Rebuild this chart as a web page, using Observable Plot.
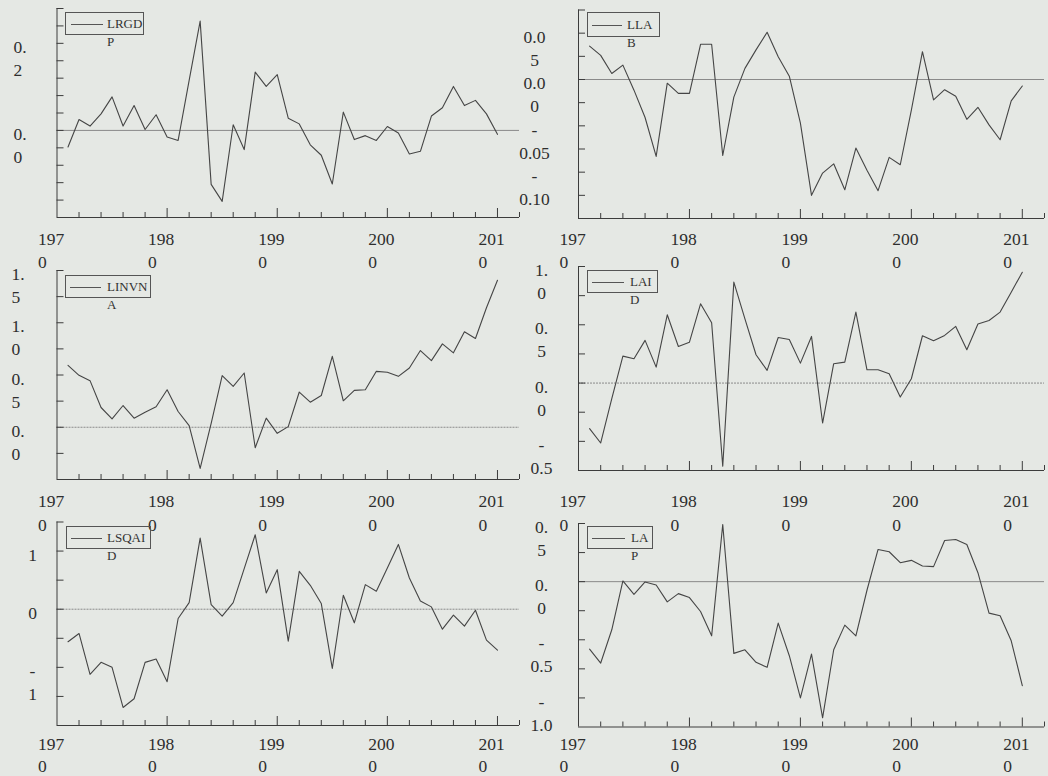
<!DOCTYPE html>
<html><head><meta charset="utf-8">
<script src="https://cdn.jsdelivr.net/npm/d3@7"></script>
<script src="https://cdn.jsdelivr.net/npm/@observablehq/plot@0.6"></script>
<style>
html,body{margin:0;padding:0;background:#e5e8e4;}
#root{position:relative;width:1048px;height:776px;background:#e5e8e4;overflow:hidden;font-family:"Liberation Serif",serif;color:#333;}
.panel{position:absolute;}
.panel svg{overflow:visible;display:block;}
.leg{position:absolute;border:1px solid #555;box-sizing:border-box;}
.legline{position:absolute;height:0;border-top:1px solid #555;}
.legtext{position:absolute;font-family:"Liberation Serif",serif;font-size:13px;line-height:18px;white-space:pre;color:#333;}
</style></head><body><div id="root"></div>
<script>
// ---------- data ----------
const years = [1971,1972,1973,1974,1975,1976,1977,1978,1979,1980,
               1981,1982,1983,1984,1985,1986,1987,1988,1989,1990,
               1991,1992,1993,1994,1995,1996,1997,1998,1999,2000,
               2001,2002,2003,2004,2005,2006,2007,2008,2009,2010];

const lrgdp = [-0.038,0.025,0.010,0.038,0.077,0.010,0.057,0.002,0.036,-0.015,
               -0.023,0.115,0.251,-0.124,-0.163,0.013,-0.044,0.134,0.101,0.128,
               0.028,0.015,-0.033,-0.057,-0.123,0.042,-0.021,-0.012,-0.023,0.009,
               -0.006,-0.054,-0.048,0.033,0.052,0.101,0.057,0.069,0.038,-0.009];
const llab = [0.036,0.026,0.0065,0.0155,-0.0115,-0.041,-0.083,-0.004,-0.015,-0.015,
              0.038,0.038,-0.082,-0.019,0.012,0.032,0.051,0.0245,0.0036,-0.047,
              -0.125,-0.101,-0.091,-0.119,-0.074,-0.098,-0.120,-0.084,-0.092,-0.033,
              0.030,-0.022,-0.011,-0.018,-0.043,-0.030,-0.049,-0.065,-0.023,-0.007];
const linvna = [0.593,0.497,0.446,0.189,0.080,0.208,0.087,0.144,0.196,0.359,
                0.151,0.016,-0.394,0.038,0.494,0.391,0.519,-0.196,0.087,-0.058,
                0.006,0.337,0.240,0.304,0.679,0.253,0.353,0.359,0.535,0.526,
                0.487,0.567,0.734,0.638,0.798,0.712,0.913,0.849,1.144,1.407];
const laid = [-0.391,-0.514,-0.134,0.231,0.209,0.366,0.137,0.586,0.314,0.351,
              0.680,0.517,-0.714,0.866,0.551,0.243,0.109,0.391,0.374,0.171,
              0.400,-0.343,0.166,0.180,0.609,0.114,0.114,0.080,-0.120,0.037,
              0.406,0.363,0.409,0.486,0.286,0.506,0.537,0.609,0.780,0.951];
const lsqaid = [-0.56,-0.417,-1.12,-0.914,-1.0,-1.69,-1.54,-0.914,-0.857,-1.246,
                -0.16,0.114,1.223,0.08,-0.12,0.114,0.697,1.28,0.28,0.68,
                -0.549,0.651,0.411,0.097,-1.017,0.24,-0.234,0.423,0.309,0.709,
                1.114,0.537,0.143,0.04,-0.343,-0.103,-0.291,-0.017,-0.531,-0.703];
const lap = [-0.58,-0.70,-0.414,0.006,-0.109,-0.003,-0.029,-0.174,-0.103,-0.137,
             -0.257,-0.466,0.491,-0.617,-0.586,-0.694,-0.737,-0.357,-0.637,-1.0,
             -0.623,-1.171,-0.586,-0.374,-0.466,-0.074,0.277,0.257,0.163,0.183,
             0.134,0.129,0.354,0.363,0.32,0.077,-0.271,-0.294,-0.509,-0.894];

const legendLabels = ["LRGD\nP", "LLA\nB", "LINVN\nA", "LAI\nD", "LSQAI\nD", "LA\nP"];

// x axis ticks and labels (years wrap onto two lines in the source)
const xMajorTicks = [1980,1990,2000,2010];
const xMinorTicks = [1972,1974,1976,1978,1982,1984,1986,1988,1992,1994,1996,1998,2002,2004,2006,2008,2012];
const xLabelYears = [1970,1980,1990,2000,2010];
const xLabels = ["197\n0","198\n0","199\n0","200\n0","201\n0"];

// y ticks and labels per panel
const yTicksTL = [-0.16,-0.12,-0.08,-0.04,0,0.04,0.08,0.12,0.16,0.2,0.24,0.28];
const yLabelValsTL = [0.2, 0];
const yLabelsTL = ["0.\n2","0.\n0"];
const yTicksTR = [-0.125,-0.1,-0.075,-0.05,-0.025,0,0.025,0.05,0.075];
const yLabelValsTR = [0.05, 0, -0.05, -0.1];
const yLabelsTR = ["0.0\n5","0.0\n0","-\n0.05","-\n0.10"];
const yTicksML = [-0.25,0,0.25,0.5,0.75,1.0,1.25,1.5];
const yLabelValsML = [1.5, 1.0, 0.5, 0];
const yLabelsML = ["1.\n5","1.\n0","0.\n5","0.\n0"];
const yTicksMR = [-0.5,-0.25,0,0.25,0.5,0.75,1.0];
const yLabelValsMR = [1.0, 0.5, 0, -0.5];
const yLabelsMR = ["1.\n0","0.\n5","0.\n0","-\n0.5"];
const yTicksBL = [-1.5,-1,-0.5,0,0.5,1,1.5];
const yLabelValsBL = [1, 0, -1];
const yLabelsBL = ["1","0","-\n1"];
const yTicksBR = [-1.0,-0.75,-0.5,-0.25,0,0.25,0.5];
const yLabelValsBR = [0.5, 0, -0.5, -1.0];
const yLabelsBR = ["0.\n5","0.\n0","-\n0.5","-\n1.0"];

// ---------- layout ----------
const FS = 17.5;
const panels = [
  {values: lrgdp, legend: 0, left: 0, top: 0, w: 524, h: 270, x0: 56.5, x1: 519, y0: 8, y1: 217, ydom: [-0.2, 0.28],
   yTicks: yTicksTL, yLV: yLabelValsTL, yL: yLabelsTL, labX: 13, labAnchor: "start", xLabY: 235, xLH: 23, zeroDash: null,
   leg: {bx: 65, by: 12, bw: 79, bh: 23, l1: 71, l2: 103, tx: 107}},
  {values: llab, legend: 1, left: 524, top: 0, w: 524, h: 270, x0: 578, x1: 1044, y0: 9.5, y1: 218, ydom: [-0.15, 0.075],
   yTicks: yTicksTR, yLV: yLabelValsTR, yL: yLabelsTR, labX: 534, labAnchor: "middle", xLabY: 235, xLH: 23, zeroDash: null,
   leg: {bx: 587, by: 12, bw: 73, bh: 25, l1: 592, l2: 622, tx: 627}},
  {values: linvna, legend: 2, left: 0, top: 260, w: 524, h: 270, x0: 56.5, x1: 519, y0: 270, y1: 479, ydom: [-0.5, 1.5],
   yTicks: yTicksML, yLV: yLabelValsML, yL: yLabelsML, labX: 11, labAnchor: "start", xLabY: 496, xLH: 24, zeroDash: "2,1",
   leg: {bx: 65, by: 275, bw: 86, bh: 23, l1: 70, l2: 101, tx: 107}},
  {values: laid, legend: 3, left: 524, top: 260, w: 524, h: 270, x0: 578, x1: 1044, y0: 266, y1: 470, ydom: [-0.75, 1.0],
   yTicks: yTicksMR, yLV: yLabelValsMR, yL: yLabelsMR, labX: 541, labAnchor: "middle", xLabY: 496, xLH: 24, zeroDash: "2,1",
   leg: {bx: 587, by: 270, bw: 71, bh: 23, l1: 592, l2: 624, tx: 630}},
  {values: lsqaid, legend: 4, left: 0, top: 510, w: 524, h: 266, x0: 56.5, x1: 519, y0: 521.5, y1: 725, ydom: [-2.0, 1.5],
   yTicks: yTicksBL, yLV: yLabelValsBL, yL: yLabelsBL, labX: 32, labAnchor: "middle", xLabY: 741, xLH: 22, zeroDash: "2,1",
   leg: {bx: 66, by: 526, bw: 85, bh: 23, l1: 71, l2: 102, tx: 107}},
  {values: lap, legend: 5, left: 524, top: 510, w: 524, h: 266, x0: 578, x1: 1044, y0: 523, y1: 726.5, ydom: [-1.25, 0.5],
   yTicks: yTicksBR, yLV: yLabelValsBR, yL: yLabelsBR, labX: 541, labAnchor: "middle", xLabY: 741, xLH: 22, zeroDash: null,
   leg: {bx: 587, by: 526, bw: 66, bh: 23, l1: 592, l2: 625, tx: 631}}
];

const root = document.getElementById("root");
const INK = "#3c3c3c";
const TXT = "#2e2e2e";

for (const p of panels) {
  const mL = p.x0 - p.left, mR = p.left + p.w - p.x1, mT = p.y0 - p.top, mB = p.top + p.h - p.y1;
  const lineDy = -0.38 * FS;
  const chart = Plot.plot({
    width: p.w, height: p.h,
    marginLeft: mL, marginRight: mR, marginTop: mT, marginBottom: mB,
    style: {background: "transparent", fontFamily: "Liberation Serif, serif", overflow: "visible"},
    x: {type: "linear", domain: [1970, 2012], axis: null},
    y: {type: "linear", domain: p.ydom, axis: null},
    marks: [
      Plot.ruleY([0], {stroke: "#8a8a8a", strokeWidth: 1, strokeDasharray: p.zeroDash}),
      Plot.lineY(p.values, {x: years, stroke: "#454545", strokeWidth: 1.1}),
      // axis lines
      Plot.ruleY([p.ydom[0]], {stroke: INK, strokeWidth: 1}),
      Plot.ruleX([1970], {stroke: INK, strokeWidth: 1}),
      // inward ticks
      Plot.axisX(xMajorTicks, {anchor: "bottom", tickSize: -9, fill: "none", stroke: INK}),
      Plot.axisX(xMinorTicks, {anchor: "bottom", tickSize: -5, fill: "none", stroke: INK}),
      Plot.axisY(p.yTicks, {anchor: "left", tickSize: -7, fill: "none", stroke: INK}),
      // x tick labels
      Plot.text(xLabelYears, {x: d => d, text: (d, i) => xLabels[i], frameAnchor: "bottom",
        textAnchor: "start", lineAnchor: "top", dx: -19, dy: p.xLabY - p.y1 + lineDy,
        lineHeight: p.xLH / FS, fontSize: FS, fontFamily: "Liberation Serif, serif", fill: TXT}),
      // y tick labels
      Plot.text(p.yLV, {y: d => d, text: (d, i) => p.yL[i], frameAnchor: "left",
        textAnchor: p.labAnchor, lineAnchor: "top", dx: p.labX - p.x0, dy: lineDy,
        lineHeight: 23 / FS, fontSize: FS, fontFamily: "Liberation Serif, serif", fill: TXT})
    ]
  });
  const div = document.createElement("div");
  div.className = "panel";
  div.style.left = p.left + "px";
  div.style.top = p.top + "px";
  div.style.width = p.w + "px";
  div.style.height = p.h + "px";
  div.appendChild(chart);
  root.appendChild(div);

  // legend box (HTML)
  const L = p.leg;
  const box = document.createElement("div");
  box.className = "leg";
  Object.assign(box.style, {left: L.bx + "px", top: L.by + "px", width: L.bw + "px", height: L.bh + "px"});
  root.appendChild(box);
  const cy = L.by + L.bh / 2;
  const ln = document.createElement("div");
  ln.className = "legline";
  Object.assign(ln.style, {left: L.l1 + "px", top: Math.round(cy) + "px", width: (L.l2 - L.l1) + "px"});
  root.appendChild(ln);
  const tx = document.createElement("div");
  tx.className = "legtext";
  tx.textContent = legendLabels[p.legend];
  Object.assign(tx.style, {left: L.tx + "px", top: (cy - 9) + "px"});
  root.appendChild(tx);
}
</script>
</body></html>
